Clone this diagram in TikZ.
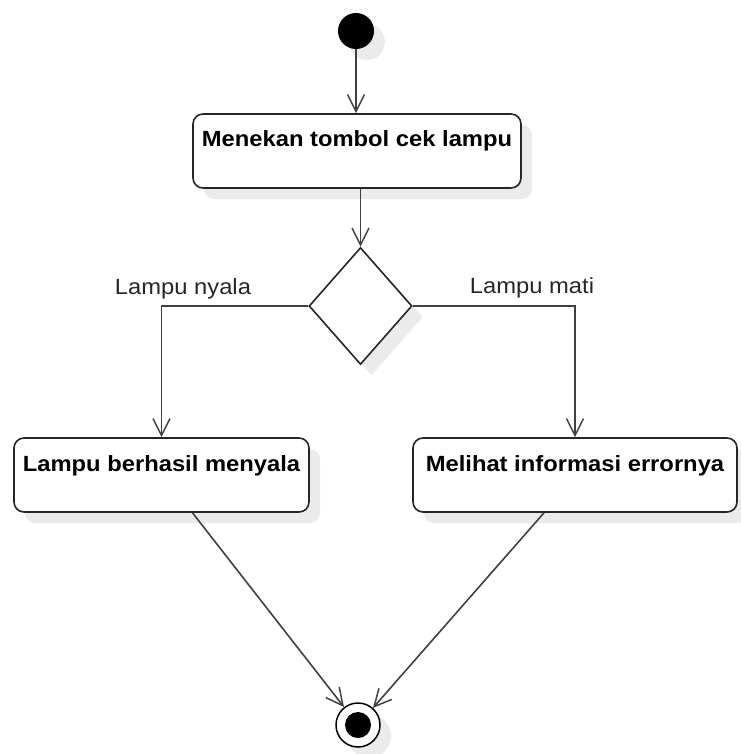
\documentclass[tikz,border=0pt]{standalone}
\usepackage{fontspec}
\setmainfont{Liberation Sans}[FakeStretch=1.08]
\usetikzlibrary{arrows.meta,shapes.geometric,shadows}
\begin{document}
\begin{tikzpicture}[x=1pt,y=-1pt,
  font=\fontsize{22}{26}\selectfont,
  shade/.style={drop shadow={shadow xshift=11pt,shadow yshift=-11pt,fill=black!8,opacity=1}},
  act/.style={draw=black!85,line width=1.6pt,rounded corners=10pt,fill=white,shade,
    minimum height=74pt,inner xsep=0pt,inner ysep=0pt,text height=33pt,text depth=41pt,
    font=\fontsize{22}{26}\selectfont\bfseries},
  flow/.style={draw=black!75,line width=1.6pt,-{Straight Barb[length=17pt,width=17pt,line width=1.5pt]}},
  guard/.style={anchor=base,text=black!85}]
  \useasboundingbox (0,0) rectangle (740,754);

  % start and end markers
  \node[circle,fill=black,minimum size=36pt,inner sep=0pt,shade] (start) at (356,31) {};
  \node[circle,draw=black,line width=1.5pt,fill=white,minimum size=44pt,inner sep=0pt,shade,
    path picture={\fill[black] (path picture bounding box.center) circle[radius=13pt];}]
    (stop) at (358,725) {};

  % actions
  \node[act,minimum width=328pt] (press) at (357,151) {Menekan tombol cek lampu};
  \node[act,minimum width=295pt] (ok) at (161.5,475) {Lampu berhasil menyala};
  \node[act,minimum width=324pt] (err) at (575,475) {Melihat informasi errornya};

  % decision
  \node[diamond,draw=black!85,line width=1.6pt,fill=white,shade,inner sep=0pt,
    minimum width=103pt,minimum height=117pt] (dec) at (360.5,306) {};

  % guards
  \node[guard] (gon) at (183,294) {Lampu nyala};
  \node[guard] (goff) at (532,293) {Lampu mati};

  % connectors
  \draw[flow] (start) -- (start |- press.north);
  \draw[flow] (press.south -| dec.north) -- (dec.north);
  \draw[flow] (dec.west) -| (ok.north);
  \draw[flow] (dec.east) -| (err.north);
  \coordinate (okout) at ([xshift=31pt]ok.south);
  \coordinate (errout) at ([xshift=-31pt]err.south);
  \draw[flow] (okout) -- (stop);
  \draw[flow] (errout) -- (stop);
\end{tikzpicture}
\end{document}
